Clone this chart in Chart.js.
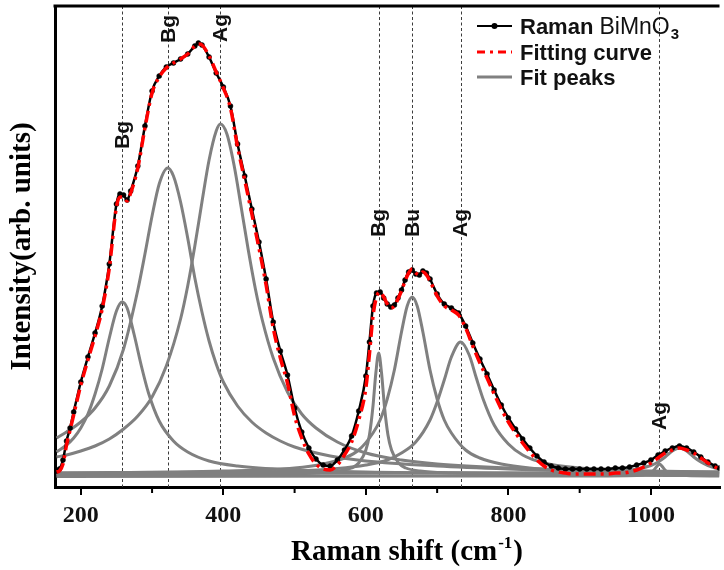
<!DOCTYPE html>
<html>
<head>
<meta charset="utf-8">
<title>Raman spectrum of BiMnO3</title>
<script src="https://cdn.jsdelivr.net/npm/chart.js@4.4.0/dist/chart.umd.min.js"></script>
<style>
  html, body { margin: 0; padding: 0; background: #ffffff; overflow: hidden; }
  canvas { display: block; }
</style>
</head>
<body>
<canvas id="raman" width="724" height="570"></canvas>
<script>
// Raman shift grid (cm^-1) shared by the measured spectrum and the total fit
const shift = [
  166,170,175,180,185,190,200,210,220,230,
  240,250,255,260,265,270,280,290,300,310,
  320,330,340,350,360,365,370,380,390,400,
  410,420,430,440,450,460,470,480,490,500,
  510,520,530,540,550,560,570,580,590,600,
  605,610,615,620,625,630,635,640,645,650,
  655,660,665,670,675,680,685,690,700,710,
  720,730,740,750,760,770,780,790,800,810,
  820,830,840,850,860,870,880,890,900,910,
  920,930,940,950,960,970,980,990,1000,1010,
  1020,1030,1040,1050,1060,1070,1080,1090,1096
];

// Measured intensity (arb. units)
const ramanIntensity = [
  3,5,14,33,46,62,92,117,141,168,
  210,270,280,279,274,283,308,348,383,398,
  407,411,415,420,428,431,429,417,401,387,
  368,330,298,265,232,195,152,123,99,66,
  42,26,15,9,8,14,24,38,63,98,
  132,168,181,182,176,170,167,169,176,184,
  194,202,204,200,199,203,201,195,180,170,
  166,161,148,131,115,100,84,69,56,45,
  35,26,18,12,8,6,5,5,5,5,
  5,5,5,6,6,7,9,11,14,19,
  23,26,28,26,22,17,12,8,6
];

// Sum of the fitted components
const fitIntensity = [
  2,3,10,29,44,59,89,114,138,165,
  206,267,277,277,273,281,306,346,381,397,
  406,411,415,420,428,430,429,418,402,386,
  366,327,294,260,226,189,146,116,91,58,
  36,20,10,5,4,9,19,32,54,86,
  120,158,177,182,177,170,166,168,175,183,
  193,201,205,201,199,202,199,193,178,168,
  164,159,146,128,111,96,80,65,52,41,
  31,22,14,8,4,2,1,0,0,0,
  0,0,0,1,1,2,4,7,11,16,
  21,24,26,24,21,16,11,7,5
];

// Individual fitted bands: [shift, intensity]
const bandBg258 = [[166,22],[180,29],[190,36],[200,46],[210,60],[220,80],[230,105],[240,136],[250,163],[258,172],[265,166],[275,139],[285,108],[295,81],[310,53],[330,33],[350,22],[380,13],[420,8],[500,4],[600,2],[800,1],[1096,0]];
const bandBg322 = [[166,36],[180,42],[200,52],[220,66],[240,88],[260,125],[280,184],[290,220],[300,258],[310,290],[322,306],[330,298],[340,272],[350,236],[360,196],[370,162],[380,133],[390,110],[400,92],[420,68],[440,52],[460,41],[480,33],[500,27],[550,18],[600,13],[700,8],[800,5],[900,3],[1096,2]];
const bandAg396 = [[166,17],[180,19],[200,23],[220,28],[240,35],[260,45],[280,58],[300,77],[320,108],[340,155],[350,188],[360,228],[370,272],[380,314],[390,343],[396,350],[405,340],[415,309],[425,267],[435,224],[445,185],[455,153],[470,116],[490,82],[510,60],[530,46],[560,32],[600,21],[650,14],[700,10],[800,6],[900,4],[1000,3],[1096,2]];
const bandBg618 = [[166,-1.5],[400,-1],[500,0],[560,3],[580,6],[590,11],[600,24],[605,39],[610,68],[614,101],[618,121],[622,101],[626,68],[631,39],[636,24],[646,11],[656,6],[676,3],[720,1],[850,-1],[1096,-1.5]];
const bandBu665 = [[166,1],[400,3],[500,6],[540,10],[570,16],[590,24],[610,41],[620,54],[630,75],[640,104],[650,142],[658,168],[665,177],[672,168],[680,142],[690,104],[700,75],[710,54],[720,41],[740,24],[760,16],[790,10],[830,6],[900,3],[1000,1.5],[1096,1]];
const bandAg733 = [[166,1],[400,2],[500,3],[560,5.5],[600,9],[630,14],[650,21],[670,32],[690,54],[700,72],[710,94],[720,117],[733,132],[745,119],[755,96],[765,74],[780,49],[800,30],[820,19],[850,11],[900,6],[1000,2.4],[1096,1.5]];
const bandAg1012 = [[166,-2.5],[900,-2],[980,-1.5],[995,0],[1003,3],[1007,6.5],[1012,10],[1017,6.5],[1021,3],[1029,0],[1050,-1.5],[1096,-2]];
const band1040 = [[166,0.5],[800,1],[900,1.5],[960,3],[980,5],[1000,8.5],[1010,12],[1020,17],[1030,23],[1040,26],[1050,23],[1060,17],[1070,12],[1080,8.5],[1090,6],[1096,5]];

// Assigned modes and their positions (cm^-1)
const modePositions = [258, 322, 396, 618, 665, 733, 1012];
const modeNames = ['Bg', 'Bg', 'Ag', 'Bg', 'Bu', 'Ag', 'Ag'];

// Axis ticks
const majorTicks = [200, 400, 600, 800, 1000];
const minorTicks = [300, 500, 700, 900];

const serif = "'Liberation Serif', 'Times New Roman', serif";
const sans = "'Liberation Sans', Arial, sans-serif";

const decorations = {
  id: 'decorations',
  beforeDatasetsDraw(chart, args, opts) {
    const { ctx, chartArea: a, scales: { x } } = chart;
    ctx.save();
    ctx.strokeStyle = '#3c3c3c';
    ctx.lineWidth = 1;
    ctx.setLineDash([3, 2.5]);
    modePositions.forEach(p => {
      const px = Math.round(x.getPixelForValue(p)) + 0.5;
      ctx.beginPath();
      ctx.moveTo(px, a.top);
      ctx.lineTo(px, a.bottom);
      ctx.stroke();
    });
    ctx.restore();
  },
  afterDraw(chart, args, opts) {
    const { ctx, chartArea: a, scales: { x, y } } = chart;
    ctx.save();

    // top frame
    ctx.strokeStyle = '#000';
    ctx.lineWidth = 3;
    ctx.beginPath();
    ctx.moveTo(a.left - 1.5, a.top);
    ctx.lineTo(a.right, a.top);
    ctx.stroke();

    // minor ticks
    ctx.lineWidth = 2;
    minorTicks.forEach(v => {
      const px = x.getPixelForValue(v);
      ctx.beginPath();
      ctx.moveTo(px, a.bottom);
      ctx.lineTo(px, a.bottom + 6);
      ctx.stroke();
    });

    // mode labels
    ctx.fillStyle = '#111';
    ctx.font = `bold 21px ${sans}`;
    ctx.textAlign = 'center';
    ctx.textBaseline = 'middle';
    modeNames.forEach((name, i) => {
      const px = x.getPixelForValue(modePositions[i]) + 1;
      const py = y.getPixelForValue(opts.labelLevels[i]);
      ctx.save();
      ctx.translate(px, py);
      ctx.rotate(-Math.PI / 2);
      ctx.fillText(name, 0, 0);
      ctx.restore();
    });

    // y axis title
    ctx.fillStyle = '#000';
    ctx.font = `bold 29px ${serif}`;
    ctx.save();
    ctx.translate(23, (a.top + a.bottom) / 2);
    ctx.rotate(-Math.PI / 2);
    ctx.fillText('Intensity(arb. units)', 0, 0);
    ctx.restore();

    // x axis title with superscript
    ctx.textAlign = 'left';
    ctx.textBaseline = 'alphabetic';
    const main = 'Raman shift (cm';
    const sup = '-1';
    const close = ')';
    ctx.font = `bold 29px ${serif}`;
    const w1 = ctx.measureText(main).width;
    const w3 = ctx.measureText(close).width;
    ctx.font = `bold 17px ${serif}`;
    const w2 = ctx.measureText(sup).width;
    const tx = opts.xTitleCenter - (w1 + w2 + w3) / 2;
    const ty = 560;
    ctx.font = `bold 29px ${serif}`;
    ctx.fillText(main, tx, ty);
    ctx.font = `bold 17px ${serif}`;
    ctx.fillText(sup, tx + w1 + 1, ty - 12);
    ctx.font = `bold 29px ${serif}`;
    ctx.fillText(close, tx + w1 + w2 + 2, ty);

    // legend
    const lx0 = 477, lx1 = 512, tx0 = 520;
    const rows = [26, 52, 77];
    ctx.lineCap = 'butt';
    ctx.strokeStyle = '#000';
    ctx.lineWidth = 2;
    ctx.setLineDash([]);
    ctx.beginPath(); ctx.moveTo(lx0, rows[0]); ctx.lineTo(lx1, rows[0]); ctx.stroke();
    ctx.fillStyle = '#000';
    ctx.beginPath(); ctx.arc((lx0 + lx1) / 2, rows[0], 3, 0, Math.PI * 2); ctx.fill();
    ctx.strokeStyle = '#ff0000';
    ctx.lineWidth = 3;
    ctx.setLineDash([8, 5, 3, 5]);
    ctx.beginPath(); ctx.moveTo(lx0, rows[1]); ctx.lineTo(lx1, rows[1]); ctx.stroke();
    ctx.strokeStyle = '#808080';
    ctx.setLineDash([]);
    ctx.beginPath(); ctx.moveTo(lx0, rows[2]); ctx.lineTo(lx1, rows[2]); ctx.stroke();

    ctx.fillStyle = '#111';
    ctx.font = `bold 22px ${sans}`;
    const rw = ctx.measureText('Raman ').width;
    ctx.fillText('Raman ', tx0, rows[0] + 8);
    ctx.font = `23px ${sans}`;
    const bw = ctx.measureText('BiMnO').width;
    ctx.fillText('BiMnO', tx0 + rw, rows[0] + 8);
    ctx.font = `bold 15px ${sans}`;
    ctx.fillText('3', tx0 + rw + bw + 1, rows[0] + 13);
    ctx.font = `bold 22px ${sans}`;
    ctx.fillText('Fitting curve', tx0, rows[1] + 8);
    ctx.fillText('Fit peaks', tx0, rows[2] + 8);

    ctx.restore();
  }
};

const toPoints = (xs, ys) => xs.map((s, i) => ({ x: s, y: ys[i] }));
const bands = [bandBg258, bandBg322, bandAg396, bandBg618, bandBu665, bandAg733, bandAg1012, band1040];

new Chart(document.getElementById('raman'), {
  type: 'line',
  data: {
    datasets: [
      {
        label: 'Fitting curve',
        data: toPoints(shift, fitIntensity),
        borderColor: '#ff0000',
        borderWidth: 3.5,
        borderDash: [12, 5, 3, 5],
        pointRadius: 0,
        cubicInterpolationMode: 'monotone',
        order: 0
      },
      {
        label: 'Raman BiMnO3',
        data: toPoints(shift, ramanIntensity),
        borderColor: '#000',
        borderWidth: 2.5,
        pointRadius: 2.5,
        pointBackgroundColor: '#000',
        pointBorderColor: '#000',
        pointBorderWidth: 0.5,
        cubicInterpolationMode: 'monotone',
        order: 1
      },
      ...bands.map(b => ({
        label: 'Fit peaks',
        data: b,
        borderColor: '#808080',
        borderWidth: 3,
        pointRadius: 0,
        cubicInterpolationMode: 'monotone',
        order: 2
      }))
    ]
  },
  options: {
    responsive: false,
    animation: false,
    devicePixelRatio: 1,
    layout: { padding: { top: 6, right: 0, left: 0, bottom: 0 } },
    plugins: {
      legend: { display: false },
      tooltip: { enabled: false },
      decorations: {
        labelLevels: [339, 445, 446, 251, 251, 251, 58],
        xTitleCenter: 406
      }
    },
    scales: {
      x: {
        type: 'linear',
        min: 163.8,
        max: 1096.2,
        afterFit(s) { s.height = 83; },
        afterBuildTicks(s) { s.ticks = majorTicks.map(v => ({ value: v })); },
        grid: { display: true, drawOnChartArea: false, drawTicks: true, tickLength: 8, color: '#000', lineWidth: 2 },
        border: { display: true, width: 3, color: '#000' },
        ticks: {
          color: '#111',
          padding: 6,
          maxRotation: 0,
          autoSkip: false,
          callback: v => String(v),
          font: { family: serif, size: 24, weight: 'bold' }
        }
      },
      y: {
        type: 'linear',
        min: -13,
        max: 468,
        afterFit(s) { s.width = 55; },
        grid: { display: false },
        border: { display: true, width: 3, color: '#000' },
        ticks: { display: false }
      }
    }
  },
  plugins: [decorations]
});
</script>
</body>
</html>
